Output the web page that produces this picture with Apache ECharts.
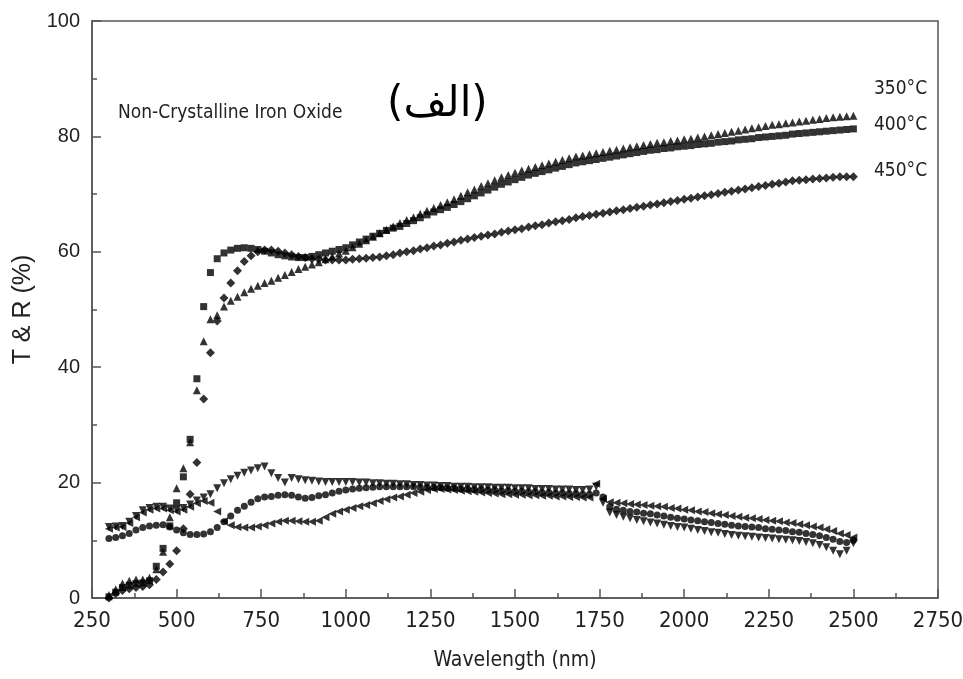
<!DOCTYPE html>
<html><head><meta charset="utf-8">
<script src="https://cdn.jsdelivr.net/npm/echarts@6/dist/echarts.min.js"></script>
<style>html,body{margin:0;padding:0;background:#fff}#c{width:963px;height:679px}</style>
</head><body><div id="c"></div>
<script>
const xTicks = [250,500,750,1000,1250,1500,1750,2000,2250,2500,2750];
const yTicks = [0,20,40,60,80,100];
const wavelengths = [
300,320,340,360,380,400,420,440,460,480,
500,520,540,560,580,600,620,640,660,680,
700,720,740,760,780,800,820,840,860,880,
900,920,940,960,980,1000,1020,1040,1060,1080,
1100,1120,1140,1160,1180,1200,1220,1240,1260,1280,
1300,1320,1340,1360,1380,1400,1420,1440,1460,1480,
1500,1520,1540,1560,1580,1600,1620,1640,1660,1680,
1700,1720,1740,1760,1780,1800,1820,1840,1860,1880,
1900,1920,1940,1960,1980,2000,2020,2040,2060,2080,
2100,2120,2140,2160,2180,2200,2220,2240,2260,2280,
2300,2320,2340,2360,2380,2400,2420,2440,2460,2480,
2500];
const T350 = [
0.5,1.5,2.5,3,3.2,3.2,3.5,5,8,14,
19,22.5,27,36,44.5,48.3,49,50.5,51.5,52.2,
53,53.6,54.1,54.6,55,55.5,56,56.5,57,57.4,
57.8,58.2,58.7,59.2,59.7,60.2,60.8,61.4,62,62.6,
63.2,63.8,64.4,65,65.5,66,66.6,67.1,67.6,68.1,
68.6,69.1,69.7,70.3,70.8,71.4,71.9,72.4,72.9,73.3,
73.7,74.1,74.4,74.7,75,75.3,75.6,75.9,76.2,76.5,
76.7,76.9,77.1,77.3,77.5,77.7,77.9,78.1,78.3,78.5,
78.7,78.9,79.0,79.2,79.3,79.5,79.6,79.8,80.0,80.2,
80.4,80.6,80.8,81.0,81.2,81.4,81.6,81.8,82.0,82.1,
82.3,82.4,82.6,82.7,82.9,83.0,83.2,83.3,83.4,83.5,
83.6];
const T400 = [
0.2,1,1.8,2.2,2.5,2.6,3,5.5,8.6,12.5,
16.5,21,27.5,38,50.5,56.4,58.8,59.8,60.3,60.6,
60.7,60.6,60.4,60.1,59.8,59.5,59.3,59.1,59.0,59.0,
59.2,59.5,59.8,60.1,60.4,60.7,61.2,61.7,62.2,62.7,
63.2,63.7,64.1,64.4,64.9,65.4,65.9,66.4,66.9,67.3,
67.7,68.2,68.7,69.2,69.7,70.2,70.7,71.2,71.7,72.1,
72.5,72.9,73.3,73.6,73.9,74.2,74.5,74.8,75.1,75.4,
75.6,75.8,76.0,76.2,76.4,76.6,76.8,77.0,77.2,77.4,
77.6,77.7,77.9,78.0,78.2,78.3,78.4,78.6,78.7,78.8,
79.0,79.1,79.2,79.4,79.5,79.6,79.8,79.9,80.0,80.1,
80.2,80.4,80.5,80.6,80.7,80.8,80.9,81.0,81.1,81.2,
81.3];
const T450 = [
0,0.8,1.3,1.6,1.8,2,2.3,3.2,4.5,5.9,
8.2,12,18,23.5,34.5,42.5,48,52,54.6,56.7,
58.3,59.3,60,60.3,60.3,60.1,59.8,59.5,59.2,59.0,
58.8,58.7,58.6,58.6,58.6,58.6,58.7,58.8,58.9,59.0,
59.1,59.3,59.5,59.8,60.0,60.2,60.5,60.7,61.0,61.2,
61.5,61.7,62.0,62.2,62.5,62.7,62.9,63.1,63.4,63.6,
63.8,64.0,64.3,64.5,64.7,65.0,65.2,65.4,65.6,65.9,
66.1,66.3,66.5,66.7,66.9,67.1,67.3,67.5,67.7,67.9,
68.1,68.3,68.5,68.7,68.9,69.1,69.3,69.5,69.7,69.9,
70.1,70.3,70.5,70.7,70.9,71.1,71.3,71.5,71.7,71.9,
72.1,72.3,72.4,72.5,72.6,72.7,72.8,72.9,73.0,73.0,
73.0];
const R_down = [
12.3,12.4,12.5,13.2,14.2,15.2,15.6,15.8,15.8,15.5,
15.3,15.6,16.2,16.9,17.4,18,19,19.9,20.6,21.2,
21.7,22.1,22.5,22.8,21.6,20.8,20.0,20.8,20.6,20.4,
20.3,20.2,20.1,20.1,20.1,20.1,20.1,20.0,20.0,19.9,
19.9,19.8,19.8,19.7,19.7,19.6,19.6,19.5,19.5,19.4,
19.4,19.3,19.3,19.3,19.2,19.2,19.2,19.1,19.1,19.1,
19.0,19.0,19.0,18.9,18.9,18.9,18.8,18.8,18.8,18.7,
18.7,18.8,19.3,16.5,14.8,14.4,14.1,13.8,13.5,13.3,
13.1,12.9,12.7,12.5,12.3,12.2,12.0,11.8,11.6,11.4,
11.3,11.1,10.9,10.8,10.7,10.6,10.5,10.4,10.3,10.2,
10.1,10.0,9.9,9.7,9.5,9.2,8.8,8.2,7.6,8.2,
9.5];
const R_circle = [
10.3,10.5,10.8,11.2,11.8,12.2,12.5,12.6,12.7,12.3,
11.8,11.3,11.0,11.0,11.1,11.5,12.2,13.2,14.2,15.2,
15.9,16.6,17.2,17.5,17.6,17.8,17.9,17.8,17.5,17.3,
17.4,17.7,17.9,18.2,18.5,18.7,18.9,19.0,19.1,19.2,
19.3,19.3,19.3,19.3,19.3,19.3,19.2,19.2,19.1,19.1,
19.0,19.0,18.9,18.9,18.8,18.8,18.7,18.7,18.6,18.6,
18.5,18.5,18.4,18.4,18.3,18.3,18.2,18.2,18.1,18.1,
18.0,18.0,18.2,17.5,15.8,15.4,15.2,15.0,14.9,14.7,
14.6,14.4,14.2,14.0,13.8,13.7,13.5,13.4,13.2,13.1,
12.9,12.8,12.6,12.5,12.4,12.3,12.2,12.0,11.9,11.8,
11.7,11.5,11.4,11.2,11.0,10.8,10.5,10.2,9.8,9.6,
10.0];
const R_left = [
12.0,12.2,12.3,13.0,14.0,14.8,15.3,15.5,15.5,15.2,
15.0,15.3,15.8,16.4,16.8,16.5,15.0,13.3,12.6,12.3,
12.2,12.2,12.4,12.6,12.9,13.2,13.4,13.4,13.3,13.2,
13.2,13.4,14.0,14.6,15.0,15.3,15.6,15.9,16.1,16.4,
16.8,17.1,17.4,17.6,17.9,18.2,18.4,18.7,18.9,18.9,
18.8,18.7,18.6,18.5,18.4,18.3,18.2,18.1,18.0,18.0,
17.9,17.9,17.8,17.8,17.7,17.7,17.6,17.6,17.5,17.5,
17.4,17.4,19.8,17.2,16.6,16.5,16.4,16.3,16.2,16.1,
16.0,15.9,15.8,15.6,15.5,15.3,15.2,15.0,14.9,14.7,
14.5,14.4,14.2,14.1,13.9,13.8,13.7,13.5,13.4,13.3,
13.1,13.0,12.8,12.6,12.4,12.2,11.9,11.6,11.2,10.9,
10.5];
const tempLabels = ['350°C','400°C','450°C'];

const pairs = arr => wavelengths.map((w,i)=>[w,arr[i]]);
const narrow = '"Liberation Sans Narrow","DejaVu Sans Condensed",Arial,sans-serif';
const chart = echarts.init(document.getElementById('c'), null, {renderer:'canvas'});
const axisColor = '#555';
function mk(name, data, symbol, size, rot){
  return {name, type:'scatter', data:pairs(data), symbol, symbolSize:size, symbolRotate:rot||0,
    itemStyle:{color:'#000'}, silent:true, animation:false};
}
chart.setOption({
  animation:false,
  grid:{left:92,right:25,top:21,bottom:81,outerBoundsMode:'none',containLabel:false,show:true,borderColor:axisColor,borderWidth:1.5,backgroundColor:'transparent'},
  xAxis:{type:'value',min:xTicks[0],max:xTicks[xTicks.length-1],interval:250,
    name:'Wavelength (nm)',nameLocation:'middle',nameGap:52,
    nameTextStyle:{fontFamily:narrow,fontSize:21,color:'#222'},
    axisLine:{show:true,lineStyle:{color:axisColor,width:1.5}},
    axisTick:{show:true,inside:true,length:9,lineStyle:{color:axisColor,width:1.5}},
    minorTick:{show:true,splitNumber:2,length:5,lineStyle:{color:axisColor,width:1.5}},
    splitLine:{show:false},
    axisLabel:{fontFamily:narrow,fontSize:22,color:'#222',margin:12,formatter:v=>String(v)}},
  yAxis:{type:'value',min:yTicks[0],max:yTicks[yTicks.length-1],interval:20,
    name:'T & R (%)',nameLocation:'middle',nameGap:47,nameRotate:90,
    nameTextStyle:{fontFamily:'"Liberation Sans",Arial,sans-serif',fontSize:25,color:'#222'},
    axisLine:{show:true,lineStyle:{color:axisColor,width:1.5}},
    axisTick:{show:true,inside:true,length:9,lineStyle:{color:axisColor,width:1.5}},
    minorTick:{show:true,splitNumber:2,length:5,lineStyle:{color:axisColor,width:1.5}},
    splitLine:{show:false},
    axisLabel:{fontFamily:'"Liberation Sans",Arial,sans-serif',fontSize:20,color:'#222',margin:12}},
  series:[
    mk('T 350',T350,'triangle',8),
    mk('T 400',T400,'rect',7),
    mk('T 450',T450,'diamond',9),
    mk('R down',R_down,'triangle',8,180),
    mk('R circle',R_circle,'circle',7),
    mk('R left',R_left,'triangle',8,90)
  ],
  graphic:[
    {type:'text',left:118,top:104,style:{text:'Non-Crystalline Iron Oxide',font:'19px '+narrow,fill:'#222'}},
    {type:'text',left:387,top:84,style:{text:'(الف)',font:'42px "DejaVu Sans",sans-serif',fill:'#000'}},
    {type:'text',left:874,top:80,style:{text:tempLabels[0],font:'19px '+narrow,fill:'#222'}},
    {type:'text',left:874,top:116,style:{text:tempLabels[1],font:'19px '+narrow,fill:'#222'}},
    {type:'text',left:874,top:162,style:{text:tempLabels[2],font:'19px '+narrow,fill:'#222'}}
  ]
});
</script></body></html>
